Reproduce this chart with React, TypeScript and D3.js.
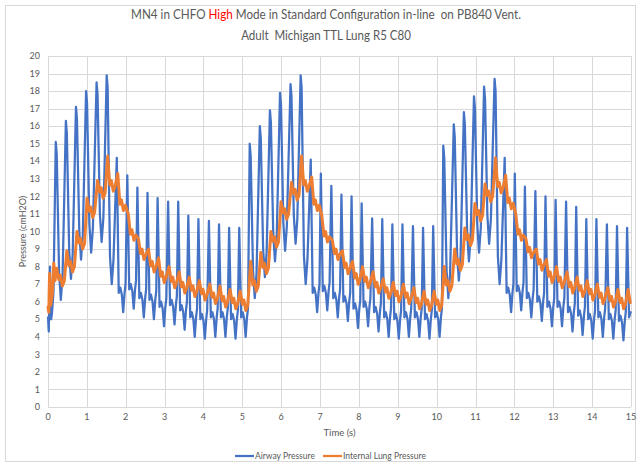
import React, { useRef, useEffect } from 'react';
import * as d3 from 'd3';

const titleParts = ['MN4 in CHFO ', 'High', ' Mode in Standard Configuration in-line  on PB840 Vent.'];
const subtitle = 'Adult  Michigan TTL Lung R5 C80';
const seriesNames = ['Airway Pressure', 'Internal Lung Pressure'];
const timeTicks = [0, 1, 2, 3, 4, 5, 6, 7, 8, 9, 10, 11, 12, 13, 14, 15];
const pressureTicks = [0, 1, 2, 3, 4, 5, 6, 7, 8, 9, 10, 11, 12, 13, 14, 15, 16, 17, 18, 19, 20];

// time (s) of each oscillation peak
const peakTimes = [
  0.20, 0.46, 0.72, 0.98, 1.25, 1.51, 1.77, 2.04, 2.30, 2.56, 2.82, 3.09, 3.35, 3.61, 3.87, 4.14, 4.40, 4.66, 4.92,
  5.19, 5.45, 5.71, 5.97, 6.24, 6.50, 6.76, 7.02, 7.29, 7.55, 7.81, 8.07, 8.34, 8.60, 8.86, 9.12, 9.39, 9.65, 9.91,
  10.17, 10.44, 10.70, 10.96, 11.22, 11.49, 11.75, 12.01, 12.27, 12.54, 12.80, 13.06, 13.33, 13.59, 13.85, 14.11, 14.38, 14.64, 14.90,
];

// 1 = oscillation during the inspiratory rise (triangular shape), 0 = during the decay
const risingPhase = [
  1, 1, 1, 1, 1, 1, 0, 0, 0, 0, 0, 0, 0, 0, 0, 0, 0, 0, 0,
  1, 1, 1, 1, 1, 1, 0, 0, 0, 0, 0, 0, 0, 0, 0, 0, 0, 0, 0,
  1, 1, 1, 1, 1, 1, 0, 0, 0, 0, 0, 0, 0, 0, 0, 0, 0, 0, 0,
];

// airway pressure: peak of each oscillation and the low that follows it
const airwayPeaks = [
  15.1, 16.3, 17.1, 18.0, 18.5, 18.9, 14.2, 13.2, 12.5, 12.2, 11.9, 11.7, 11.7, 10.9, 10.7, 10.6, 10.4, 10.2, 10.2,
  15.0, 16.0, 16.9, 17.9, 18.4, 18.9, 14.1, 13.3, 12.6, 12.1, 12.0, 11.6, 10.75, 10.7, 10.4, 10.4, 10.3, 10.2, 10.3,
  14.9, 16.1, 16.8, 17.7, 18.25, 18.7, 14.2, 13.3, 12.55, 12.3, 12.0, 11.8, 11.7, 11.4, 10.7, 10.7, 10.4, 10.3, 10.2,
];
const airwayTroughs = [
  6.1, 7.3, 8.4, 8.8, 9.4, 7.0, 5.4, 5.6, 5.1, 5.0, 4.6, 4.7, 4.4, 4.0, 3.9, 4.0, 4.0, 3.9, 4.0,
  6.2, 7.4, 8.3, 8.9, 9.3, 7.0, 5.4, 5.5, 5.1, 4.9, 4.5, 4.6, 4.3, 4.0, 3.9, 4.0, 4.0, 3.9, 4.0,
  6.2, 7.2, 8.3, 8.8, 9.3, 7.0, 5.4, 5.5, 5.1, 4.9, 4.6, 4.6, 4.3, 4.1, 3.9, 4.0, 3.9, 3.8, 4.0,
];
const airwayStart = [[0, 5.1], [0.02, 4.3], [0.05, 8.0], [0.08, 5.0], [0.1, 5.3], [0.14, 6.5]];

// internal lung pressure: spike after each oscillation and the low between spikes
const lungHighs = [
  7.9, 8.9, 10.0, 11.9, 12.9, 14.3, 13.3, 11.0, 9.6, 9.0, 8.5, 8.0, 7.7, 7.4, 7.2, 7.0, 6.9, 6.7, 6.6,
  8.3, 8.8, 10.0, 11.7, 12.8, 14.3, 13.1, 10.9, 9.5, 8.9, 8.3, 8.0, 7.7, 7.3, 7.1, 7.0, 6.8, 6.6, 6.6,
  8.0, 9.0, 10.2, 11.6, 12.7, 14.2, 13.2, 11.0, 9.6, 9.0, 8.4, 8.0, 7.7, 7.4, 7.2, 7.0, 6.8, 6.7, 6.7,
];
const lungLows = [
  6.9, 7.7, 9.0, 10.8, 11.9, 12.3, 11.2, 9.5, 8.4, 7.7, 7.1, 6.8, 6.5, 6.3, 6.1, 5.9, 5.7, 5.6, 5.5,
  6.6, 7.6, 9.1, 10.7, 11.8, 12.3, 11.2, 9.4, 8.4, 7.6, 7.0, 6.8, 6.5, 6.2, 6.0, 5.9, 5.6, 5.5, 5.5,
  6.6, 7.8, 9.2, 10.6, 11.7, 12.2, 11.3, 9.5, 8.5, 7.8, 7.1, 6.8, 6.5, 6.3, 6.1, 5.9, 5.7, 5.6, 5.6,
];
const lungStart = [[0, 5.7], [0.02, 5.4], [0.04, 7.6], [0.07, 5.8], [0.11, 6.4], [0.15, 8.2], [0.18, 7.2]];

const BLUE = '#4472C4';
const ORANGE = '#ED7D31';
const TEXT = '#595959';
const GRID = '#d9d9d9';
const FONT = 'Lato, "Open Sans", sans-serif';

export default function App() {
  const ref = useRef(null);

  useEffect(() => {
    const svg = d3.select(ref.current);
    svg.selectAll('*').remove();

    const width = 641;
    const height = 466;
    const left = 48, right = 631, top = 56, bottom = 407;

    const x = d3.scaleLinear().domain([0, 15]).range([left, right]);
    const y = d3.scaleLinear().domain([0, 20]).range([bottom, top]);

    svg.attr('width', width).attr('height', height);

    svg.append('rect')
      .attr('x', 0).attr('y', 0).attr('width', width).attr('height', height)
      .attr('fill', '#fff');
    // chart border
    svg.append('rect')
      .attr('x', 5.5).attr('y', 5.5).attr('width', 630).attr('height', 456)
      .attr('fill', 'none').attr('stroke', GRID);

    // gridlines
    const grid = svg.append('g').attr('stroke', GRID).attr('stroke-width', 1);
    grid.selectAll('.h').data(pressureTicks).join('line')
      .attr('x1', left).attr('x2', right)
      .attr('y1', d => Math.round(y(d)) + 0.5).attr('y2', d => Math.round(y(d)) + 0.5);
    grid.selectAll('.v').data(timeTicks).join('line')
      .attr('y1', top).attr('y2', bottom)
      .attr('x1', d => Math.round(x(d)) + 0.5).attr('x2', d => Math.round(x(d)) + 0.5);

    // tick labels
    svg.append('g').selectAll('text').data(pressureTicks).join('text')
      .attr('x', left - 8).attr('y', d => y(d)).attr('dy', '0.35em')
      .attr('text-anchor', 'end').attr('font-size', 9).attr('fill', TEXT)
      .attr('font-family', FONT).text(d => d);
    svg.append('g').selectAll('text').data(timeTicks).join('text')
      .attr('x', d => x(d)).attr('y', bottom + 13)
      .attr('text-anchor', 'middle').attr('font-size', 9).attr('fill', TEXT)
      .attr('font-family', FONT).text(d => d);

    // axis titles
    svg.append('text')
      .attr('transform', `translate(26, ${(top + bottom) / 2}) rotate(-90)`)
      .attr('text-anchor', 'middle').attr('font-size', 9).attr('fill', TEXT)
      .attr('font-family', FONT).text('Pressure (cmH2O)');
    svg.append('text')
      .attr('x', (left + right) / 2).attr('y', bottom + 29)
      .attr('text-anchor', 'middle').attr('font-size', 9.5).attr('fill', TEXT)
      .attr('font-family', FONT).text('Time (s)');

    // title: laid out at natural width, then squeezed horizontally to Calibri-like width
    const fitTitle = (yPos, targetWidth, build) => {
      const g = svg.append('g');
      const t = g.append('text')
        .attr('x', 0).attr('y', 0).attr('text-anchor', 'middle')
        .attr('font-size', 13.3).attr('fill', TEXT).attr('font-family', FONT)
        .style('white-space', 'pre');
      build(t);
      const len = t.node().getComputedTextLength() || targetWidth;
      g.attr('transform', `translate(326, ${yPos}) scale(${targetWidth / len}, 1)`);
    };
    fitTitle(19, 390, t => {
      titleParts.forEach((p, i) => {
        t.append('tspan').attr('fill', i === 1 ? '#FF0000' : TEXT).text(p);
      });
    });
    fitTitle(40, 170, t => t.text(subtitle));

    // build the traces from the read values
    const airway = [...airwayStart];
    peakTimes.forEach((t, i) => {
      const p = airwayPeaks[i];
      const tr = airwayTroughs[i];
      if (risingPhase[i]) {
        airway.push([t, p], [t + 0.025, p - 0.7], [t + 0.085, tr + 1.6], [t + 0.13, tr], [t + 0.175, tr + 1.4]);
      } else {
        airway.push([t, p], [t + 0.05, tr + 1.1], [t + 0.09, tr + 1.4], [t + 0.13, tr + 1.0],
          [t + 0.165, tr], [t + 0.2, tr + 1.1], [t + 0.225, tr + 1.6]);
      }
    });
    const lung = [...lungStart];
    peakTimes.forEach((t, i) => {
      const hi = lungHighs[i];
      const lo = lungLows[i];
      lung.push([t + 0.025, hi], [t + 0.08, lo + 0.35], [t + 0.12, lo + 0.6],
        [t + 0.17, lo], [t + 0.22, lo + 0.3]);
    });

    const line = d3.line().x(d => x(d[0])).y(d => y(d[1]));
    const inRange = (pts) => pts.filter(d => d[0] <= 15);

    svg.append('path')
      .attr('d', line(inRange(airway)))
      .attr('fill', 'none').attr('stroke', BLUE).attr('stroke-width', 2.25)
      .attr('stroke-linejoin', 'round').attr('stroke-linecap', 'round');
    svg.append('path')
      .attr('d', line(inRange(lung)))
      .attr('fill', 'none').attr('stroke', ORANGE).attr('stroke-width', 3)
      .attr('stroke-linejoin', 'round').attr('stroke-linecap', 'round');

    // legend
    const legendY = 456;
    const legend = svg.append('g').attr('font-family', FONT).attr('font-size', 8.5).attr('fill', TEXT);
    [[235, BLUE], [323, ORANGE]].forEach(([lx, color], i) => {
      legend.append('line')
        .attr('x1', lx).attr('x2', lx + 19).attr('y1', legendY).attr('y2', legendY)
        .attr('stroke', color).attr('stroke-width', 2.25);
      legend.append('text')
        .attr('x', lx + 20).attr('y', legendY).attr('dy', '0.35em')
        .text(seriesNames[i]);
    });
  }, []);

  return <svg ref={ref} style={{ position: 'absolute', left: 0, top: 0, display: 'block' }} />;
}
